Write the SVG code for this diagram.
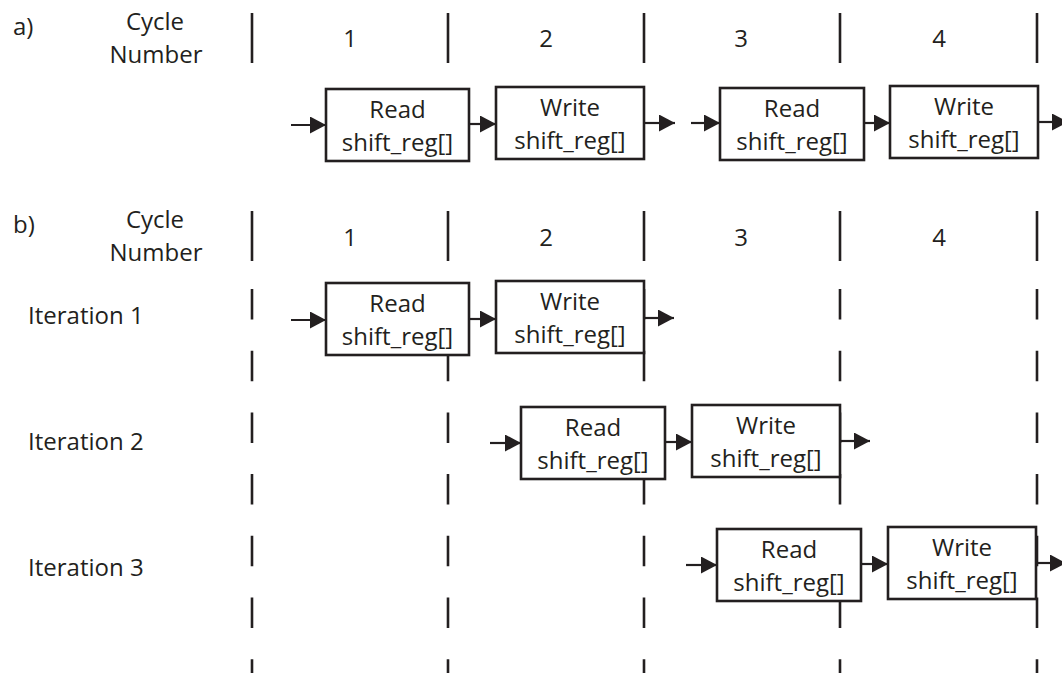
<svg xmlns="http://www.w3.org/2000/svg" width="1062" height="673" viewBox="0 0 1062 673">
<style>
text{font-family:"Open Sans","Noto Sans","Liberation Sans",sans-serif;font-size:24px;fill:#231f20}
.c{text-anchor:middle}
.box{fill:#fff;stroke:#231f20;stroke-width:2.6}
.sep{stroke:#231f20;stroke-width:2.6;fill:none}
.dash{stroke:#231f20;stroke-width:2.6;fill:none;stroke-dasharray:30.5 31.2}
.arr{stroke:#231f20;stroke-width:2.2;fill:none;marker-end:url(#ah)}
</style>
<defs>
<marker id="ah" markerUnits="userSpaceOnUse" markerWidth="17" markerHeight="18" refX="16" refY="8.5" orient="auto">
<path d="M0,0 L16,8.5 L0,17 z" fill="#231f20"/>
</marker>
</defs>
<rect width="1062" height="673" fill="#fff"/>

<g id="header-a">
<text x="13" y="35">a)</text>
<text class="c" x="155" y="30">Cycle</text>
<text class="c" x="156" y="63">Number</text>
<path class="sep" d="M252,13V63M448,13V63M644,13V63M840,13V63M1037,13V63"/>
<text class="c" x="350" y="47">1</text>
<text class="c" x="546" y="47">2</text>
<text class="c" x="741" y="47">3</text>
<text class="c" x="939" y="47">4</text>
</g>

<g id="header-b">
<text x="13" y="233">b)</text>
<text class="c" x="155" y="228">Cycle</text>
<text class="c" x="156" y="261">Number</text>
<path class="sep" d="M252,211V261M448,211V261M644,211V261M840,211V261M1037,211V261"/>
<text class="c" x="350" y="246">1</text>
<text class="c" x="546" y="246">2</text>
<text class="c" x="741" y="246">3</text>
<text class="c" x="939" y="246">4</text>
</g>

<g id="cycle-boundaries">
<path class="dash" d="M252,289V673M448,289V673M644,289V673M840,289V673M1037,289V673"/>
</g>

<g id="labels">
<text x="28" y="324">Iteration 1</text>
<text x="28" y="450">Iteration 2</text>
<text x="28" y="576">Iteration 3</text>
</g>

<g id="connectors">
<path class="arr" d="M291,125H326"/>
<path class="arr" d="M469,124H496"/>
<path class="arr" d="M644,123H675"/>
<path class="arr" d="M691,123H720"/>
<path class="arr" d="M864,123H890"/>
<path class="arr" d="M1038,122H1068"/>

<path class="arr" d="M291,320H326"/>
<path class="arr" d="M469,319H496"/>
<path class="arr" d="M644,318H674"/>

<path class="arr" d="M490,443H521"/>
<path class="arr" d="M665,442H692"/>
<path class="arr" d="M840,441H870"/>

<path class="arr" d="M686,565H717"/>
<path class="arr" d="M861,564H888"/>
<path class="arr" d="M1036,563H1066"/>
</g>

<g id="a-read-1"><rect class="box" x="326" y="89" width="143" height="72"/><text class="c" x="397.5" y="118">Read</text><text class="c" x="397.5" y="151">shift_reg[]</text></g>
<g id="a-write-1"><rect class="box" x="496" y="87" width="148" height="72"/><text class="c" x="570" y="116">Write</text><text class="c" x="570" y="149">shift_reg[]</text></g>
<g id="a-read-2"><rect class="box" x="720" y="88" width="144" height="72"/><text class="c" x="792" y="117">Read</text><text class="c" x="792" y="150">shift_reg[]</text></g>
<g id="a-write-2"><rect class="box" x="890" y="86" width="148" height="72"/><text class="c" x="964" y="115">Write</text><text class="c" x="964" y="148">shift_reg[]</text></g>

<g id="it1-read"><rect class="box" x="326" y="283" width="143" height="72"/><text class="c" x="397.5" y="312">Read</text><text class="c" x="397.5" y="345">shift_reg[]</text></g>
<g id="it1-write"><rect class="box" x="496" y="281" width="148" height="72"/><text class="c" x="570" y="310">Write</text><text class="c" x="570" y="343">shift_reg[]</text></g>

<g id="it2-read"><rect class="box" x="521" y="407" width="144" height="72"/><text class="c" x="593" y="436">Read</text><text class="c" x="593" y="469">shift_reg[]</text></g>
<g id="it2-write"><rect class="box" x="692" y="405" width="148" height="72"/><text class="c" x="766" y="434">Write</text><text class="c" x="766" y="467">shift_reg[]</text></g>

<g id="it3-read"><rect class="box" x="717" y="529" width="144" height="72"/><text class="c" x="789" y="558">Read</text><text class="c" x="789" y="591">shift_reg[]</text></g>
<g id="it3-write"><rect class="box" x="888" y="527" width="148" height="72"/><text class="c" x="962" y="556">Write</text><text class="c" x="962" y="589">shift_reg[]</text></g>
</svg>
